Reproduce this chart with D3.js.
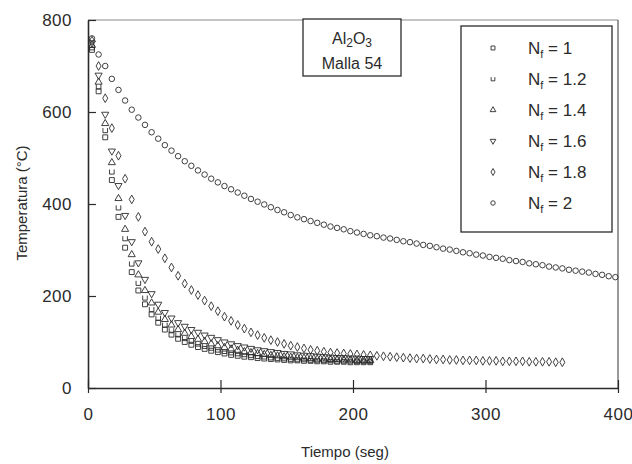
<!DOCTYPE html>
<html lang="es">
<head>
<meta charset="UTF-8">
<title>Al2O3 Malla 54</title>
<script src="https://cdn.jsdelivr.net/npm/d3@7"></script>
<style>
    body { margin: 0; background: #fff; }
    text { font-family: "Liberation Sans", Arial, sans-serif; fill: #2b2b2b; }
</style>
</head>
<body>
<script>
    // tiempo (seg) de cada lectura
    var tiempo = [3, 8, 13, 18, 23, 28, 33, 38, 43, 48, 53, 58, 63, 68, 73, 78, 83, 88, 93, 98,
        103, 108, 113, 118, 123, 128, 133, 138, 143, 148, 153, 158, 163, 168, 173, 178, 183, 188, 193, 198,
        203, 208, 213, 218, 223, 228, 233, 238, 243, 248, 253, 258, 263, 268, 273, 278, 283, 288, 293, 298,
        303, 308, 313, 318, 323, 328, 333, 338, 343, 348, 353, 358, 363, 368, 373, 378, 383, 388, 393, 398];

    // temperatura (C) por serie
    var nf1 = [735, 645, 545, 452, 372, 305, 252, 212, 182, 160, 142, 127, 116, 107, 100, 94, 89, 85, 81, 78,
        75, 72, 70, 68, 67, 65, 64, 63, 62, 61, 60, 60, 59, 59, 58, 58, 57, 57, 57, 56, 56, 56, 56];
    var nf12 = [740, 655, 560, 470, 392, 325, 270, 228, 196, 171, 152, 137, 125, 116, 108, 102, 96, 91, 87, 83,
        80, 77, 75, 73, 71, 69, 68, 66, 65, 64, 63, 62, 62, 61, 61, 60, 60, 59, 59, 59, 58, 58, 58];
    var nf14 = [745, 665, 575, 490, 412, 345, 290, 246, 212, 185, 165, 149, 137, 127, 119, 112, 106, 101, 96, 92,
        88, 85, 82, 79, 77, 75, 73, 71, 70, 68, 67, 66, 65, 64, 63, 63, 62, 62, 61, 61, 60, 60, 60];
    var nf16 = [750, 680, 595, 515, 440, 375, 318, 272, 236, 205, 182, 164, 152, 142, 134, 127, 121, 115, 110, 105,
        100, 96, 92, 89, 86, 83, 81, 79, 77, 75, 74, 72, 71, 70, 69, 68, 67, 66, 66, 65, 65, 64, 64];
    var nf18 = [755, 700, 630, 565, 505, 455, 410, 372, 340, 318, 302, 282, 262, 244, 227, 213, 202, 190, 178, 167,
        155, 146, 137, 129, 121, 115, 109, 104, 100, 96, 92, 89, 86, 83, 81, 79, 77, 76, 75, 74,
        73, 72, 71, 70, 69, 68, 67, 66, 65, 64, 64, 63, 62, 62, 61, 61, 60, 60, 60, 59,
        59, 59, 58, 58, 58, 58, 57, 57, 57, 57, 56, 56];
    var nf2 = [760, 725, 700, 672, 648, 625, 605, 588, 572, 556, 542, 528, 516, 504, 493, 483, 473, 464, 455, 447,
        439, 432, 425, 418, 411, 405, 399, 393, 387, 382, 376, 371, 367, 363, 359, 355, 351, 348, 345, 341,
        338, 335, 332, 330, 327, 325, 322, 319, 317, 314, 311, 309, 306, 303, 301, 298, 295, 293, 290, 288,
        285, 283, 281, 278, 276, 274, 271, 269, 267, 264, 262, 260, 257, 255, 253, 251, 248, 246, 243, 241];

    var etiquetas = ["1", "1.2", "1.4", "1.6", "1.8", "2"];
    var xTicks = [0, 100, 200, 300, 400];
    var yTicks = [0, 200, 400, 600, 800];

    var series = [nf1, nf12, nf14, nf16, nf18, nf2];

    var width = 632, height = 464;
    var margin = {top: 20, right: 14, bottom: 76, left: 88};
    var ink = "#2b2b2b";

    var svg = d3.select("body").append("svg")
        .attr("width", width)
        .attr("height", height);

    var x = d3.scaleLinear()
        .domain([0, 400])
        .range([margin.left, width - margin.right]);

    var y = d3.scaleLinear()
        .domain([0, 800])
        .range([height - margin.bottom, margin.top]);

    // marcadores
    var uPath = "M-2.5,-2.5 L-2.5,2.5 L2.5,2.5 L2.5,-2.5";
    function marker(sel, i, s) {
        var k = s || 1;
        if (i == 0) {
            sel.attr("d", d3.symbol().type(d3.symbolSquare).size(24 * k * k)());
        } else if (i == 1) {
            sel.attr("d", "M" + (-2.3 * k) + "," + (-2.3 * k) + " L" + (-2.3 * k) + "," + (2.3 * k) +
                " L" + (2.3 * k) + "," + (2.3 * k) + " L" + (2.3 * k) + "," + (-2.3 * k));
        } else if (i == 2) {
            sel.attr("d", d3.symbol().type(d3.symbolTriangle).size(22 * k * k)());
        } else if (i == 3) {
            sel.attr("d", d3.symbol().type(d3.symbolTriangle).size(22 * k * k)())
                .attr("data-rot", 180);
        } else if (i == 4) {
            sel.attr("d", d3.symbol().type(d3.symbolDiamond).size(22 * k * k)());
        } else {
            sel.attr("d", d3.symbol().type(d3.symbolCircle).size(24 * k * k)());
        }
        return sel;
    }

    // marco
    svg.append("line")
        .attr("x1", x(0)).attr("x2", x(400))
        .attr("y1", y(800)).attr("y2", y(800))
        .attr("stroke", "#8a8a8a").attr("stroke-width", 1.2);
    svg.append("line")
        .attr("x1", x(400)).attr("x2", x(400))
        .attr("y1", y(800)).attr("y2", y(0))
        .attr("stroke", "#555").attr("stroke-width", 1.2);

    // eje x
    var gx = svg.append("g")
        .attr("transform", "translate(0," + y(0) + ")")
        .call(d3.axisBottom(x).tickValues(xTicks).tickSize(5).tickSizeOuter(0).tickPadding(15));
    gx.select(".domain").attr("stroke", ink).attr("stroke-width", 1.6);
    gx.selectAll(".tick line").attr("y1", -8).attr("stroke", ink).attr("stroke-width", 1.2);
    gx.selectAll(".tick text")
        .style("font-family", "Liberation Sans, Arial, sans-serif")
        .attr("font-size", 17).attr("fill", ink).attr("letter-spacing", 0.5);

    // eje y
    var gy = svg.append("g")
        .attr("transform", "translate(" + x(0) + ",0)")
        .call(d3.axisLeft(y).tickValues(yTicks).tickSize(-8).tickSizeOuter(0).tickPadding(16));
    gy.select(".domain").attr("stroke", ink).attr("stroke-width", 1.6);
    gy.selectAll(".tick line").attr("stroke", ink).attr("stroke-width", 1.2);
    gy.selectAll(".tick text")
        .style("font-family", "Liberation Sans, Arial, sans-serif")
        .attr("font-size", 17).attr("fill", ink).attr("letter-spacing", 0.5);

    // series
    series.forEach(function (vals, i) {
        var pts = vals.map(function (v, j) { return {t: tiempo[j], v: v}; });
        svg.append("g").selectAll("path")
            .data(pts)
            .enter()
            .append("path")
            .each(function () { marker(d3.select(this), i); })
            .attr("transform", function (d) {
                return "translate(" + x(d.t) + "," + y(d.v) + ")" + (i == 3 ? " rotate(180)" : "");
            })
            .attr("fill", "none")
            .attr("stroke", ink)
            .attr("stroke-width", 0.9);
    });

    // titulos de ejes
    svg.append("text")
        .attr("x", 345).attr("y", 457)
        .attr("text-anchor", "middle")
        .attr("font-size", 15)
        .text("Tiempo (seg)");

    svg.append("text")
        .attr("transform", "translate(27,203) rotate(-90)")
        .attr("text-anchor", "middle")
        .attr("font-size", 15)
        .text("Temperatura (°C)");

    // recuadro Al2O3
    svg.append("rect")
        .attr("x", 303).attr("y", 19)
        .attr("width", 98).attr("height", 57)
        .attr("fill", "#fff").attr("stroke", ink).attr("stroke-width", 1.3);
    var al = svg.append("text")
        .attr("x", 352).attr("y", 44)
        .attr("text-anchor", "middle")
        .attr("font-size", 16);
    al.append("tspan").text("Al");
    al.append("tspan").attr("font-size", 12).attr("dy", 3).text("2");
    al.append("tspan").attr("dy", -3).text("O");
    al.append("tspan").attr("font-size", 12).attr("dy", 3).text("3");
    svg.append("text")
        .attr("x", 352).attr("y", 69)
        .attr("text-anchor", "middle")
        .attr("font-size", 16)
        .text("Malla 54");

    // leyenda
    svg.append("rect")
        .attr("x", 461).attr("y", 26)
        .attr("width", 151).attr("height", 206)
        .attr("fill", "#fff").attr("stroke", ink).attr("stroke-width", 1.3);

    etiquetas.forEach(function (lab, i) {
        var ly = 48 + i * 31;
        marker(svg.append("path"), i, 0.8)
            .attr("transform", "translate(493," + ly + ")" + (i == 3 ? " rotate(180)" : ""))
            .attr("fill", "none")
            .attr("stroke", ink)
            .attr("stroke-width", 0.9);
        var t = svg.append("text")
            .attr("x", 528).attr("y", ly + 6)
            .attr("font-size", 17);
        t.append("tspan").text("N");
        t.append("tspan").attr("font-size", 11).attr("dy", 4).text("f");
        t.append("tspan").attr("dy", -4).text(" = " + lab);
    });
</script>
</body>
</html>
